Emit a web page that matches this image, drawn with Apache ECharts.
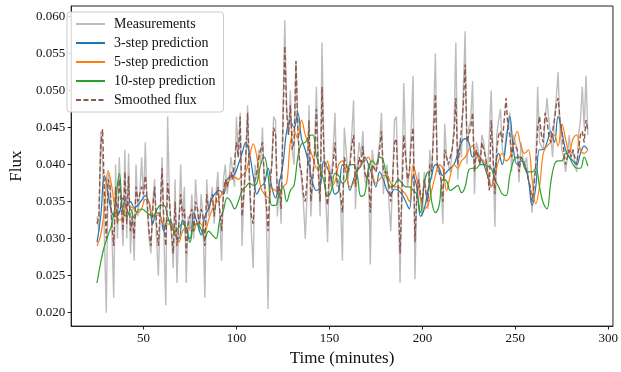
<!DOCTYPE html>
<html><head><meta charset="utf-8">
<script src="https://cdn.jsdelivr.net/npm/echarts@6/dist/echarts.min.js"></script>
<style>html,body{margin:0;padding:0;background:#fff}#c{width:621px;height:372px}</style>
</head><body><div id="c"></div>
<script>
const tMeas = [25,26,27,28,29,
30,31,32,33,34,35,36,37,38,39,40,41,42,43,44,45,46,47,48,49,
50,51,52,53,54,55,56,57,58,59,60,61,62,63,64,65,66,67,68,69,
70,71,72,73,74,75,76,77,78,79,80,81,82,83,84,85,86,87,88,89,
90,91,92,93,94,95,96,97,98,99,100,101,102,103,104,105,106,107,108,109,
110,111,112,113,114,115,116,117,118,119,120,121,122,123,124,125,126,127,128,129,
130,131,132,133,134,135,136,137,138,139,140,141,142,143,144,145,146,147,148,149,
150,151,152,153,154,155,156,157,158,159,160,161,162,163,164,165,166,167,168,169,
170,171,172,173,174,175,176,177,178,179,180,181,182,183,184,185,186,187,188,189,
190,191,192,193,194,195,196,197,198,199,200,201,202,203,204,205,206,207,208,209,
210,211,212,213,214,215,216,217,218,219,220,221,222,223,224,225,226,227,228,229,
230,231,232,233,234,235,236,237,238,239,240,241,242,243,244,245,246,247,248,249,
250,251,252,253,254,255,256,257,258,259,260,261,262,263,264,265,266,267,268,269,
270,271,272,273,274,275,276,277,278,279,280,281,282,283,284,285,286,287,288,289];

const measurements = [0.033,0.031,0.0445,0.040,0.030,
0.020,0.039,0.038,0.031,0.022,0.040,0.030,0.041,0.034,0.029,
0.042,0.030,0.0415,0.028,0.034,0.027,0.040,0.033,0.036,0.041,
0.035,0.043,0.034,0.030,0.028,0.035,0.038,0.030,0.025,0.033,
0.041,0.030,0.021,0.0465,0.035,0.031,0.026,0.038,0.024,0.032,
0.040,0.032,0.037,0.024,0.033,0.031,0.036,0.030,0.038,0.034,
0.031,0.036,0.033,0.022,0.038,0.033,0.035,0.037,0.032,0.036,
0.039,0.033,0.027,0.038,0.040,0.036,0.038,0.041,0.039,0.037,
0.0465,0.041,0.047,0.029,0.036,0.040,0.048,0.038,0.031,0.026,
0.040,0.038,0.042,0.040,0.045,0.037,0.034,0.0205,0.038,0.040,
0.0465,0.046,0.033,0.038,0.032,0.047,0.0595,0.048,0.044,0.050,
0.042,0.040,0.054,0.045,0.040,0.038,0.035,0.030,0.036,0.048,
0.033,0.038,0.042,0.0505,0.040,0.033,0.0565,0.043,0.036,0.0295,
0.040,0.0375,0.042,0.047,0.037,0.038,0.035,0.027,0.045,0.042,
0.038,0.040,0.044,0.0487,0.034,0.040,0.043,0.041,0.0445,0.038,
0.037,0.040,0.0265,0.042,0.040,0.039,0.041,0.043,0.047,0.036,
0.039,0.040,0.035,0.031,0.038,0.046,0.0465,0.036,0.024,0.038,
0.051,0.042,0.037,0.039,0.045,0.052,0.0245,0.036,0.039,0.035,
0.033,0.039,0.036,0.034,0.042,0.038,0.046,0.055,0.039,0.040,
0.038,0.032,0.0455,0.041,0.040,0.039,0.042,0.045,0.0565,0.038,
0.043,0.041,0.050,0.058,0.040,0.045,0.046,0.0513,0.036,0.043,
0.042,0.040,0.044,0.043,0.041,0.039,0.044,0.050,0.041,0.0316,
0.044,0.046,0.0475,0.042,0.041,0.044,0.045,0.047,0.039,0.044,
0.043,0.042,0.0376,0.043,0.041,0.040,0.041,0.038,0.037,0.0335,
0.038,0.040,0.0505,0.043,0.043,0.042,0.046,0.049,0.046,0.044,
0.041,0.046,0.049,0.0525,0.045,0.042,0.041,0.039,0.041,0.044,
0.041,0.042,0.040,0.039,0.044,0.046,0.0505,0.045,0.052,0.044];

const smoothed = [0.032,0.033,0.0425,0.0448,0.036,
0.030,0.038,0.037,0.032,0.029,0.037,0.032,0.038,0.035,0.031,
0.039,0.032,0.0385,0.031,0.033,0.030,0.037,0.035,0.036,0.037,
0.036,0.0385,0.035,0.031,0.029,0.034,0.037,0.032,0.029,0.034,
0.0395,0.032,0.029,0.0375,0.035,0.031,0.028,0.035,0.029,0.032,
0.036,0.033,0.034,0.028,0.032,0.032,0.034,0.031,0.035,0.034,
0.032,0.034,0.033,0.029,0.036,0.034,0.035,0.036,0.033,0.035,
0.037,0.034,0.031,0.036,0.038,0.037,0.038,0.039,0.038,0.038,
0.043,0.041,0.0465,0.033,0.036,0.041,0.047,0.038,0.033,0.032,
0.038,0.039,0.041,0.041,0.043,0.038,0.035,0.031,0.037,0.040,
0.045,0.044,0.036,0.037,0.034,0.045,0.056,0.047,0.044,0.048,
0.042,0.043,0.054,0.045,0.040,0.039,0.036,0.035,0.038,0.046,
0.035,0.038,0.041,0.0475,0.039,0.035,0.0505,0.042,0.036,0.0345,
0.039,0.038,0.040,0.043,0.038,0.038,0.036,0.0335,0.041,0.041,
0.039,0.040,0.0425,0.044,0.037,0.039,0.041,0.040,0.0425,0.039,
0.038,0.039,0.0335,0.040,0.040,0.039,0.040,0.042,0.0445,0.039,
0.039,0.039,0.037,0.035,0.038,0.043,0.0435,0.037,0.028,0.036,
0.044,0.041,0.038,0.039,0.043,0.045,0.0295,0.036,0.038,0.036,
0.035,0.038,0.036,0.035,0.040,0.039,0.044,0.0495,0.040,0.040,
0.038,0.035,0.042,0.041,0.040,0.040,0.042,0.044,0.049,0.040,
0.042,0.042,0.048,0.0535,0.043,0.044,0.045,0.047,0.039,0.042,
0.042,0.040,0.043,0.042,0.041,0.039,0.0365,0.046,0.041,0.036,
0.042,0.044,0.0445,0.043,0.043,0.049,0.045,0.044,0.041,0.043,
0.043,0.042,0.039,0.041,0.041,0.040,0.040,0.038,0.037,0.035,
0.037,0.040,0.045,0.0465,0.044,0.043,0.047,0.046,0.044,0.043,
0.043,0.046,0.048,0.049,0.046,0.0445,0.042,0.040,0.041,0.042,
0.041,0.042,0.041,0.040,0.042,0.044,0.0445,0.043,0.046,0.0445];

const tPred = [25,27,29,31,33,35,37,39,41,43,
45,47,49,51,53,55,57,59,61,63,
65,67,69,71,73,75,77,79,81,83,
85,87,89,91,93,95,97,99,101,103,
105,107,109,111,113,115,117,119,121,123,
125,127,129,131,133,135,137,139,141,143,
145,147,149,151,153,155,157,159,161,163,
165,167,169,171,173,175,177,179,181,183,
185,187,189,191,193,195,197,199,201,203,
205,207,209,211,213,215,217,219,221,223,
225,227,229,231,233,235,237,239,241,243,
245,247,249,251,253,255,257,259,261,263,
265,267,269,271,273,275,277,279,281,283,
285,287,289];

const pred3 = [0.0295,0.033,0.0385,0.036,0.0335,0.033,0.0335,0.0355,0.0345,0.035,
0.0342,0.0345,0.0352,0.0358,0.0348,0.032,0.0335,0.0332,0.031,0.0325,
0.0322,0.0305,0.030,0.0325,0.031,0.030,0.0335,0.032,0.0305,0.033,
0.034,0.0355,0.0362,0.0365,0.036,0.038,0.0383,0.0387,0.040,0.0415,
0.043,0.0415,0.0385,0.036,0.037,0.0375,0.0395,0.037,0.0355,0.0375,
0.040,0.0445,0.0458,0.045,0.047,0.0435,0.042,0.040,0.0375,0.0365,
0.037,0.0405,0.0395,0.038,0.036,0.0365,0.040,0.039,0.0365,0.038,
0.0392,0.0398,0.041,0.040,0.0385,0.037,0.039,0.038,0.0365,0.036,
0.0367,0.0365,0.036,0.035,0.034,0.0385,0.037,0.033,0.034,0.0365,
0.0385,0.040,0.0395,0.0385,0.039,0.0395,0.040,0.0415,0.043,0.0435,
0.043,0.041,0.0415,0.041,0.040,0.0385,0.037,0.0395,0.0415,0.040,
0.043,0.0465,0.042,0.040,0.0405,0.040,0.038,0.0345,0.037,0.042,
0.042,0.043,0.0445,0.043,0.0465,0.0445,0.042,0.041,0.0405,0.040,
0.0415,0.0425,0.042];

const pred5 = [0.029,0.0305,0.034,0.0392,0.037,0.0335,0.0325,0.033,0.0347,0.0343,
0.034,0.0335,0.034,0.0353,0.035,0.033,0.0332,0.033,0.032,0.032,
0.0318,0.031,0.0295,0.031,0.0315,0.0315,0.031,0.0322,0.032,0.031,
0.0325,0.034,0.0348,0.0355,0.0365,0.0375,0.038,0.0383,0.038,0.0385,
0.039,0.041,0.0428,0.041,0.037,0.036,0.0355,0.0368,0.0365,0.036,
0.037,0.0375,0.043,0.0445,0.0435,0.046,0.044,0.0425,0.041,0.0395,
0.0393,0.039,0.0405,0.037,0.0377,0.040,0.0405,0.039,0.037,0.0375,
0.0395,0.040,0.0405,0.041,0.039,0.0375,0.038,0.0385,0.0385,0.0375,
0.037,0.037,0.0365,0.036,0.035,0.040,0.038,0.0355,0.034,0.0345,
0.0365,0.0385,0.040,0.0395,0.0365,0.0385,0.040,0.0395,0.0405,0.041,
0.042,0.0425,0.041,0.0408,0.0405,0.0392,0.037,0.0385,0.0405,0.0415,
0.0405,0.041,0.043,0.0445,0.0425,0.0415,0.042,0.038,0.0347,0.037,
0.0415,0.0425,0.043,0.044,0.0425,0.0455,0.0435,0.0415,0.0435,0.044,
0.042,0.0415,0.042];

const pred10 = [0.024,0.0268,0.029,0.0305,0.032,0.035,0.0388,0.0335,0.033,0.034,
0.0328,0.0338,0.034,0.0337,0.0333,0.033,0.0338,0.0345,0.0345,0.033,
0.0315,0.031,0.0315,0.032,0.0315,0.0295,0.0318,0.032,0.0312,0.030,
0.031,0.0305,0.030,0.0325,0.0338,0.0355,0.035,0.034,0.035,0.0365,
0.037,0.0375,0.0372,0.0375,0.040,0.041,0.0385,0.0345,0.0345,0.036,
0.037,0.035,0.0365,0.0372,0.041,0.0428,0.043,0.0438,0.044,0.0412,
0.0395,0.0378,0.0357,0.0365,0.0388,0.0385,0.0375,0.038,0.040,0.040,
0.0385,0.0357,0.036,0.0395,0.0405,0.040,0.041,0.0405,0.038,0.037,
0.0372,0.038,0.0375,0.037,0.037,0.0365,0.036,0.0335,0.0375,0.039,
0.035,0.0335,0.0345,0.038,0.0378,0.0365,0.0368,0.0372,0.0362,0.037,
0.0393,0.0395,0.0395,0.040,0.040,0.0398,0.0395,0.038,0.037,0.036,
0.0358,0.0385,0.0405,0.041,0.041,0.0395,0.039,0.039,0.0395,0.037,
0.0348,0.034,0.0375,0.040,0.0405,0.0405,0.0415,0.041,0.040,0.0395,
0.0395,0.041,0.0398];

const xTicks = [50,100,150,200,250,300];
const yTicks = [0.020,0.025,0.030,0.035,0.040,0.045,0.050,0.055,0.060];
const seriesNames = ['Measurements','3-step prediction','5-step prediction','10-step prediction','Smoothed flux'];

const FONT = '"Liberation Serif","DejaVu Serif",serif';
const pairs = (ts, vs) => ts.map((t, i) => [t, vs[i]]);
const chart = echarts.init(document.getElementById('c'), null, {renderer: 'canvas'});
const axisCommon = {
  axisLine: {show: true, onZero: false, lineStyle: {color: '#222', width: 1}},
  splitLine: {show: false}
};
const noSym = {color: 'rgba(0,0,0,0)', borderWidth: 0};
chart.setOption({
  animation: false,
  backgroundColor: '#fff',
  grid: {left: 63, top: 6, right: 6, bottom: 40, show: true, borderColor: '#222', borderWidth: 1, backgroundColor: 'transparent'},
  legend: {
    orient: 'vertical', left: 67, top: 12,
    itemWidth: 29, itemHeight: 14, itemGap: 5,
    padding: [5, 8, 5, 8],
    borderColor: '#cccccc', borderWidth: 1, borderRadius: 3,
    backgroundColor: 'rgba(255,255,255,0.85)',
    itemStyle: {opacity: 0},
    textStyle: {fontFamily: FONT, fontSize: 14, color: '#111', padding: [0, 0, 0, 4]},
    data: seriesNames
  },
  xAxis: Object.assign({
    type: 'value', min: 11.1, max: 302.5,
    axisTick: {show: true, customValues: xTicks, length: 3.5, lineStyle: {color: '#222'}},
    axisLabel: {customValues: xTicks, fontFamily: FONT, fontSize: 13, color: '#111', margin: 6},
    name: 'Time (minutes)', nameLocation: 'middle', nameGap: 19,
    nameTextStyle: {fontFamily: FONT, fontSize: 17, color: '#111'}
  }, axisCommon),
  yAxis: Object.assign({
    type: 'value', min: 0.01818, max: 0.06142,
    axisTick: {show: true, customValues: yTicks, length: 3.5, lineStyle: {color: '#222'}},
    axisLabel: {customValues: yTicks, fontFamily: FONT, fontSize: 13, color: '#111', margin: 6,
      formatter: v => v.toFixed(3)},
    name: 'Flux', nameLocation: 'middle', nameGap: 44,
    nameTextStyle: {fontFamily: FONT, fontSize: 17, color: '#111'}
  }, axisCommon),
  series: [
    {name: seriesNames[0], type: 'line', data: pairs(tMeas, measurements), showSymbol: false, symbol: 'none',
      lineStyle: {color: '#bdbdbd', width: 1.4}, itemStyle: noSym, z: 1},
    {name: seriesNames[1], type: 'line', data: pairs(tPred, pred3), showSymbol: false, symbol: 'none', smooth: 0.4,
      lineStyle: {color: '#1f77b4', width: 1.2}, itemStyle: noSym, z: 2},
    {name: seriesNames[2], type: 'line', data: pairs(tPred, pred5), showSymbol: false, symbol: 'none', smooth: 0.4,
      lineStyle: {color: '#ff7f0e', width: 1.2}, itemStyle: noSym, z: 3},
    {name: seriesNames[3], type: 'line', data: pairs(tPred, pred10), showSymbol: false, symbol: 'none', smooth: 0.4,
      lineStyle: {color: '#2ca02c', width: 1.2}, itemStyle: noSym, z: 4},
    {name: seriesNames[4], type: 'line', data: pairs(tMeas, smoothed), showSymbol: false, symbol: 'none',
      lineStyle: {color: '#8c564b', width: 1.4, type: [5, 2.5]}, itemStyle: noSym, z: 5}
  ]
});
</script></body></html>
